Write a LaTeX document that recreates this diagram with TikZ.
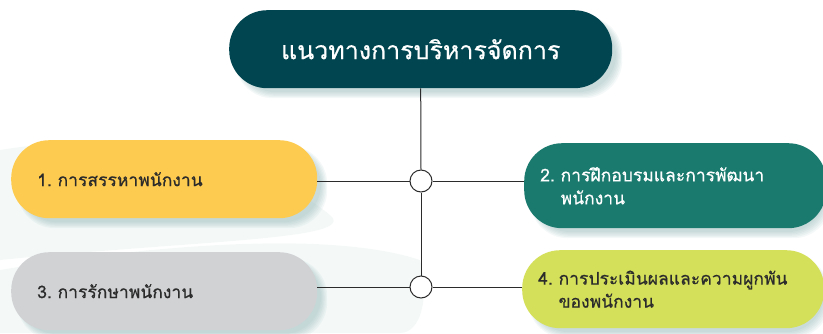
\documentclass[tikz,border=0pt]{standalone}
\usepackage{fontspec}
\newfontfamily\thaifont[Script=Thai,FakeBold=0.6]{Loma}
\usetikzlibrary{calc}
\definecolor{topteal}{HTML}{00454F}
\definecolor{boxyellow}{HTML}{FDCB4F}
\definecolor{boxteal}{HTML}{1A7A6E}
\definecolor{boxgray}{HTML}{D1D2D4}
\definecolor{boxlime}{HTML}{D4DF5A}
\definecolor{shadowc}{HTML}{7FAAAA}
\definecolor{linec}{HTML}{2B2B2B}
\definecolor{bgwisp}{HTML}{E8F3F1}
\tikzset{
  x=1pt,y=-1pt,
  card/.style={rectangle, rounded corners=38pt, draw=none, minimum height=78pt, align=left, font=\thaifont\fontsize{17.5}{23}\selectfont, anchor=north west},
  conn/.style={draw=linec, line width=1pt},
  joint/.style={circle, draw=linec, line width=1pt, fill=white, minimum size=22pt, inner sep=0pt},
}
\newcommand{\softshadow}[4]{%
  \foreach \k in {1,...,6}{%
    \fill[shadowc, opacity=0.08, rounded corners=38pt] ($(#1,#2)+(6-\k*0.5+3,6-\k*0.5+3)$) rectangle ($(#3,#4)+(\k*1.2+3,\k*1.2+3)$);
  }%
}
\begin{document}
\begin{tikzpicture}
\useasboundingbox (0,0) rectangle (823,333);
\fill[white] (0,0) rectangle (823,333);
% faint background wisps
\fill[bgwisp, opacity=0.45] (0,150) .. controls (120,130) and (250,150) .. (330,215) .. controls (360,240) and (200,240) .. (0,260) -- cycle;
\fill[bgwisp, opacity=0.45] (0,270) .. controls (150,245) and (330,230) .. (420,260) .. controls (430,300) and (420,333) .. (400,333) -- (0,333) -- cycle;
% shadows
\softshadow{229}{10}{612}{88}
\softshadow{11}{140}{317}{218}
\softshadow{524}{143}{821}{228}
\softshadow{11}{252}{317}{330}
\softshadow{522}{250}{820}{328}
% boxes
\node[card, fill=topteal, text=white, minimum width=383pt, inner xsep=0pt, align=center, anchor=north west, font=\thaifont\fontsize{25}{28}\selectfont] (top) at (229,10) {แนวทางการบริหารจัดการ};
\node[card, fill=boxyellow, text=linec, minimum width=306pt, text width=254pt, inner xsep=26pt] (b1) at (11,140) {1.\ การสรรหาพนักงาน};
\node[card, fill=boxteal, text=white, minimum width=297pt, minimum height=85pt, text width=270pt, inner xsep=16pt] (b2) at (524,143) {2.\ การฝึกอบรมและการพัฒนา\\\hphantom{2.\ }พนักงาน};
\node[card, fill=boxgray, text=linec, minimum width=306pt, text width=254pt, inner xsep=26pt] (b3) at (11,252) {3.\ การรักษาพนักงาน};
\node[card, fill=boxlime, text=linec, minimum width=298pt, text width=270pt, inner xsep=16pt] (b4) at (522,250) {4.\ การประเมินผลและความผูกพัน\\\hphantom{4.\ }ของพนักงาน};
% joints
\node[joint] (c1) at (421,181) {};
\node[joint] (c2) at (421,287) {};
% connectors
\draw[conn] (top.south) -- (c1.north);
\draw[conn] (c1.south) -- (c2.north);
\draw[conn] (b1.east |- c1.west) -- (c1.west);
\draw[conn] (c1.east) -- (c1.east -| b2.west);
\draw[conn] (b3.east |- c2.west) -- (c2.west);
\draw[conn] (c2.east) -- (c2.east -| b4.west);
\end{tikzpicture}
\end{document}
